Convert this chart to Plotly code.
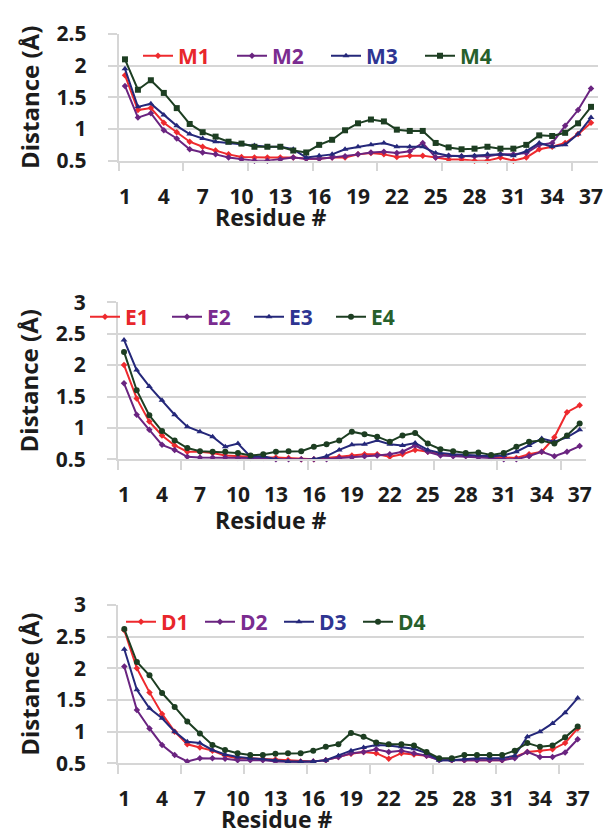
import plotly.graph_objects as go

residues = list(range(1, 38))
x_tick_vals = list(range(1, 38, 3))
x_tick_text = [str(v) for v in x_tick_vals]
boundary_ticks = [0.5 + 5 * k for k in range(8)]

y_ticks_1 = [0.5, 1, 1.5, 2, 2.5]
y_text_1 = ["0.5", "1", "1.5", "2", "2.5"]
y_ticks_23 = [0.5, 1, 1.5, 2, 2.5, 3]
y_text_23 = ["0.5", "1", "1.5", "2", "2.5", "3"]

M1 = [1.85,1.30,1.33,1.10,0.95,0.80,0.72,0.66,0.60,0.56, 0.55,0.55,0.55,0.55,0.53,0.53,0.55,0.55,0.60,0.62,
      0.60,0.56,0.58,0.58,0.55,0.52,0.52,0.50,0.50,0.55, 0.50,0.55,0.68,0.72,0.78,0.92,1.10]
M2 = [1.68,1.18,1.25,0.98,0.85,0.68,0.63,0.60,0.55,0.52, 0.50,0.50,0.52,0.55,0.53,0.53,0.55,0.57,0.60,0.63,
      0.64,0.62,0.65,0.78,0.55,0.58,0.57,0.57,0.57,0.60, 0.60,0.62,0.75,0.78,1.05,1.30,1.64]
M3 = [1.95,1.35,1.40,1.22,1.05,0.92,0.85,0.80,0.78,0.76, 0.74,0.72,0.72,0.68,0.55,0.58,0.60,0.68,0.72,0.75,
      0.78,0.72,0.72,0.72,0.62,0.58,0.57,0.58,0.60,0.60, 0.58,0.65,0.78,0.72,0.75,0.92,1.18]
M4 = [2.10,1.62,1.77,1.57,1.33,1.08,0.95,0.88,0.80,0.77, 0.72,0.72,0.72,0.66,0.63,0.75,0.83,0.98,1.09,1.15,
      1.12,0.99,0.97,0.97,0.78,0.71,0.68,0.69,0.72,0.69, 0.69,0.75,0.90,0.89,0.94,1.09,1.35]

E1 = [2.00,1.47,1.10,0.88,0.72,0.62,0.62,0.60,0.56,0.55, 0.53,0.53,0.53,0.52,0.50,0.50,0.52,0.54,0.56,0.58,
      0.58,0.54,0.58,0.65,0.62,0.58,0.57,0.56,0.55,0.53, 0.53,0.52,0.58,0.62,0.85,1.25,1.36]
E2 = [1.71,1.21,0.97,0.73,0.65,0.54,0.53,0.53,0.53,0.52, 0.52,0.52,0.50,0.50,0.50,0.50,0.50,0.52,0.53,0.55,
      0.56,0.58,0.62,0.72,0.62,0.56,0.55,0.55,0.53,0.52, 0.50,0.50,0.55,0.62,0.55,0.62,0.71]
E3 = [2.40,1.92,1.66,1.44,1.21,1.02,0.94,0.86,0.70,0.75, 0.54,0.55,0.50,0.48,0.48,0.50,0.55,0.65,0.73,0.74,
      0.80,0.74,0.72,0.76,0.65,0.60,0.58,0.57,0.57,0.55, 0.56,0.62,0.72,0.83,0.78,0.85,0.97]
E4 = [2.21,1.60,1.20,0.95,0.80,0.68,0.63,0.62,0.62,0.60, 0.56,0.58,0.62,0.63,0.63,0.70,0.74,0.80,0.94,0.90,
      0.86,0.78,0.88,0.92,0.75,0.66,0.63,0.60,0.61,0.57, 0.60,0.70,0.78,0.80,0.75,0.88,1.07]

D1 = [2.60,2.00,1.62,1.28,1.00,0.80,0.75,0.70,0.62,0.58, 0.58,0.57,0.56,0.55,0.53,0.53,0.55,0.60,0.65,0.68,
      0.66,0.57,0.66,0.64,0.62,0.56,0.55,0.55,0.55,0.55, 0.55,0.60,0.68,0.70,0.72,0.82,1.05]
D2 = [2.03,1.34,1.05,0.79,0.63,0.53,0.58,0.58,0.57,0.55, 0.55,0.55,0.53,0.52,0.52,0.53,0.55,0.60,0.66,0.68,
      0.72,0.68,0.70,0.66,0.62,0.55,0.55,0.55,0.55,0.55, 0.55,0.58,0.68,0.60,0.60,0.67,0.88]
D3 = [2.30,1.66,1.37,1.21,1.00,0.84,0.82,0.71,0.64,0.60, 0.58,0.57,0.55,0.53,0.53,0.53,0.55,0.62,0.70,0.75,
      0.79,0.78,0.76,0.73,0.66,0.55,0.55,0.57,0.58,0.58, 0.58,0.62,0.92,1.00,1.13,1.30,1.53]
D4 = [2.62,2.10,1.89,1.61,1.39,1.16,0.97,0.79,0.71,0.66, 0.63,0.63,0.65,0.66,0.66,0.70,0.76,0.80,0.98,0.92,
      0.83,0.80,0.80,0.78,0.68,0.58,0.58,0.63,0.63,0.63, 0.63,0.70,0.82,0.76,0.78,0.91,1.08]

line_colors = ["#ee2a2e", "#6a2480", "#25287a", "#1d3e22"]
text_colors = ["#e8262c", "#7a2c90", "#2e3592", "#27602c"]

W, H = 608, 834
FONT = "Open Sans"
GRID = "#d6d6d6"
TXT = "#1c1c1c"

panels = [
    dict(names=["M1", "M2", "M3", "M4"], data=[M1, M2, M3, M4],
         symbols=["diamond", "diamond", "triangle-up", "square"],
         px=(118.5, 597.5), py=(34.0, 160.7), yr=[0.5, 2.5],
         yt=(y_ticks_1, y_text_1), leg=(138, 56, 89), title_xy=(270, 217)),
    dict(names=["E1", "E2", "E3", "E4"], data=[E1, E2, E3, E4],
         symbols=["diamond", "diamond", "triangle-up", "circle"],
         px=(117.7, 586.0), py=(302.3, 459.3), yr=[0.5, 3.0],
         yt=(y_ticks_23, y_text_23), leg=(85, 317, 77), title_xy=(270, 520)),
    dict(names=["D1", "D2", "D3", "D4"], data=[D1, D2, D3, D4],
         symbols=["diamond", "diamond", "triangle-up", "circle"],
         px=(118.0, 584.0), py=(605.0, 763.3), yr=[0.5, 3.0],
         yt=(y_ticks_23, y_text_23), leg=(121, 622, 74), title_xy=(276, 819)),
]

fig = go.Figure()
layout = dict(template="none", width=W, height=H, margin=dict(l=0, r=0, t=0, b=0, autoexpand=False),
              paper_bgcolor="white", plot_bgcolor="white", showlegend=True,
              font=dict(family=FONT, color=TXT), annotations=[])

for i, p in enumerate(panels):
    k = "" if i == 0 else str(i + 1)
    legname = "legend" + k
    for j in range(4):
        fig.add_trace(go.Scatter(
            x=residues, y=p["data"][j], mode="lines+markers",
            name=f'<span style="color:{text_colors[j]}">{p["names"][j]}</span>',
            line=dict(color=line_colors[j], width=2),
            marker=dict(symbol=p["symbols"][j], size=6 if j >= 2 else 5, color=line_colors[j]),
            xaxis="x" + k, yaxis="y" + k, legend=legname, cliponaxis=False,
        ))
    x0, x1 = p["px"]
    yt, yb = p["py"]
    layout["xaxis" + k] = dict(
        domain=[x0 / W, x1 / W], anchor="y" + k, range=[0.5, 37.5], automargin=False,
        tickmode="array", tickvals=x_tick_vals, ticktext=x_tick_text,
        ticks="", showgrid=False, zeroline=False,
        showline=True, linecolor=GRID, linewidth=1.5,
        ticklabelstandoff=16,
        tickfont=dict(family=FONT, size=21, weight="bold", color=TXT),
        minor=dict(tickmode="array", tickvals=boundary_ticks, ticks="outside",
                   ticklen=9, tickcolor=GRID, tickwidth=1.5, showgrid=False),
    )
    layout["yaxis" + k] = dict(
        domain=[1 - yb / H, 1 - yt / H], anchor="x" + k, range=p["yr"], automargin=False,
        tickmode="array", tickvals=p["yt"][0], ticktext=p["yt"][1],
        ticks="outside", ticklen=9, tickcolor=GRID, tickwidth=1.5,
        showgrid=True, gridcolor=GRID, gridwidth=1.5, zeroline=False,
        showline=True, linecolor=GRID, linewidth=1.5,
        ticklabelstandoff=17,
        tickfont=dict(family=FONT, size=21, weight="bold", color=TXT),
        title=dict(text="Distance (Å)", standoff=10,
                   font=dict(family=FONT, size=24, weight="bold", color=TXT)),
    )
    lx, ly, lw = p["leg"]
    layout[legname] = dict(
        x=lx / W, y=1 - ly / H, xanchor="left", yanchor="middle",
        orientation="h", bgcolor="rgba(0,0,0,0)", borderwidth=0,
        entrywidth=lw - 40, entrywidthmode="pixels", itemwidth=30,
        font=dict(family=FONT, size=21, weight="bold"),
    )
    tx, ty = p["title_xy"]
    layout["annotations"].append(dict(
        text="Residue #", x=tx / W, y=1 - ty / H, xref="paper", yref="paper",
        xanchor="center", yanchor="middle", showarrow=False,
        font=dict(family=FONT, size=23, weight="bold", color=TXT)))

fig.update_layout(**layout)
fig.write_html("out.html", config={"displayModeBar": False},
               post_script="document.body.style.margin='0';document.body.style.overflow='hidden';")
